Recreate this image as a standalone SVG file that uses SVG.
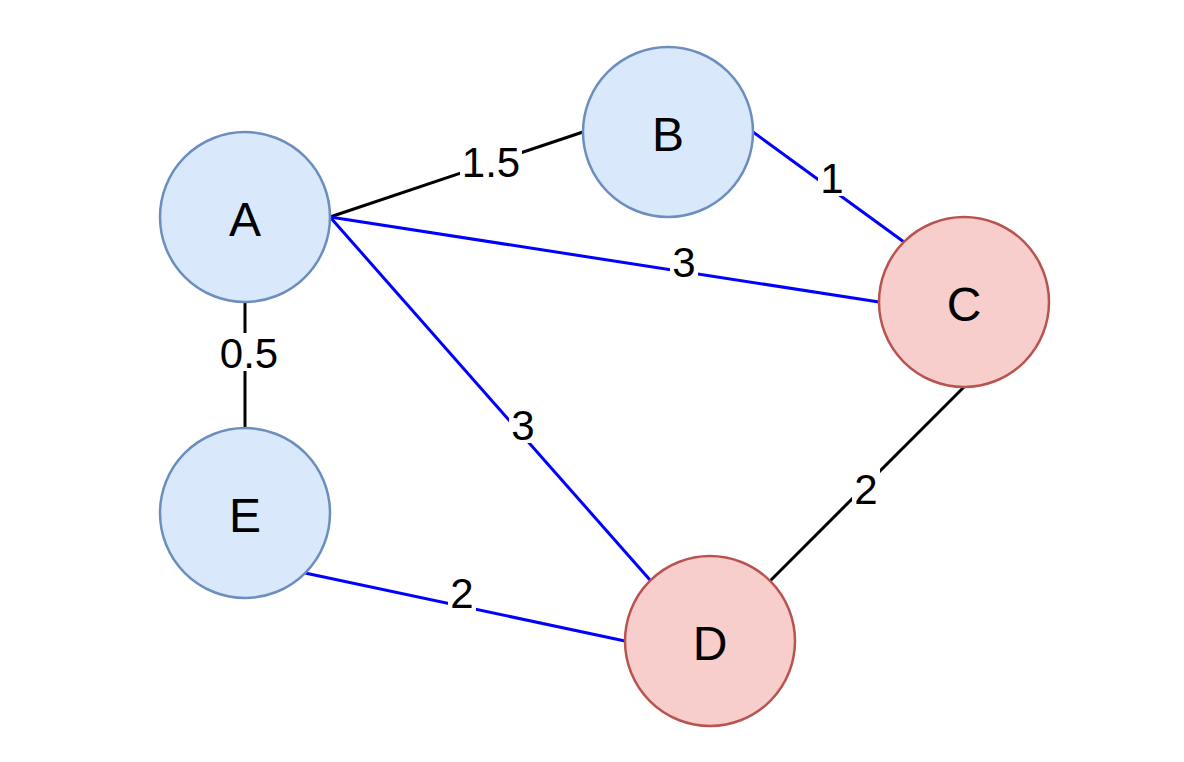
<svg xmlns="http://www.w3.org/2000/svg" width="1184" height="762" viewBox="0 0 1184 762">
<style>
.blue{fill:#dae8fc;stroke:#6c8ebf;stroke-width:2.5}
.red{fill:#f8cecc;stroke:#b85450;stroke-width:2.5}
.nt{font-family:"Liberation Sans",Arial,sans-serif;font-size:48px;fill:#000;text-anchor:middle}
.e{fill:none;stroke-width:3}
.k{stroke:#000}
.b{stroke:#0000ff}
.lb{fill:#fff}
.lt{font-family:"Liberation Sans",Arial,sans-serif;font-size:42px;fill:#000;text-anchor:middle}
</style>
<rect width="1184" height="762" fill="#fff"/>
<g id="connectors">
<line class="e k" x1="330" y1="217" x2="583" y2="132"/>
<line class="e b" x1="753" y1="132" x2="904" y2="242"/>
<line class="e b" x1="330" y1="217" x2="879" y2="302"/>
<line class="e b" x1="330" y1="217" x2="650" y2="580"/>
<line class="e k" x1="245" y1="302" x2="245" y2="428"/>
<line class="e k" x1="964" y1="387" x2="770" y2="581"/>
<line class="e b" x1="305" y1="573" x2="625" y2="641"/>
<g id="labels">
<rect class="lb" x="460" y="143" width="62" height="38"/>
<text class="lt" x="491" y="177">1.5</text>
<rect class="lb" x="818" y="158" width="28" height="38"/>
<text class="lt" x="832" y="193">1</text>
<rect class="lb" x="670" y="242" width="28" height="38"/>
<text class="lt" x="684" y="277">3</text>
<rect class="lb" x="509" y="405" width="28" height="38"/>
<text class="lt" x="523" y="440">3</text>
<rect class="lb" x="218" y="333" width="62" height="38"/>
<text class="lt" x="249" y="368">0.5</text>
<rect class="lb" x="852" y="469" width="28" height="38"/>
<text class="lt" x="866" y="504">2</text>
<rect class="lb" x="448" y="574" width="28" height="38"/>
<text class="lt" x="462" y="608">2</text>
</g>
</g>
<g id="node-A"><circle class="blue" cx="245" cy="217" r="85"/><text class="nt" x="245" y="236">A</text></g>
<g id="node-B"><circle class="blue" cx="668" cy="132" r="85"/><text class="nt" x="668" y="151">B</text></g>
<g id="node-C"><circle class="red" cx="964" cy="302" r="85"/><text class="nt" x="964" y="321">C</text></g>
<g id="node-D"><circle class="red" cx="710" cy="641" r="85"/><text class="nt" x="710" y="660">D</text></g>
<g id="node-E"><circle class="blue" cx="245" cy="513" r="85"/><text class="nt" x="245" y="532">E</text></g>
</svg>
